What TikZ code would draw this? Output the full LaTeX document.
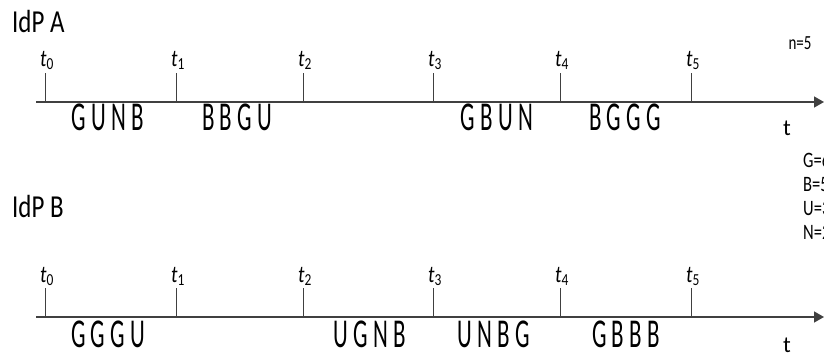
\documentclass[tikz,border=0pt]{standalone}
\usepackage{fontspec}
\setmainfont{Carlito}
\usetikzlibrary{arrows.meta}
\definecolor{axisgray}{HTML}{404040}
\tikzset{
  axisline/.style={draw=axisgray, line width=1.4pt, -{Triangle[length=10pt,width=11pt]}},
  tickline/.style={draw=axisgray, line width=1pt},
  ticklabel/.style={anchor=base, inner sep=0pt, font=\fontsize{24}{28}\selectfont},
  seqlabel/.style={anchor=base, inner sep=0pt, font=\fontsize{41}{46}\selectfont},
  titlelabel/.style={anchor=base west, inner sep=0pt, font=\fontsize{32}{36}\selectfont},
  smalllabel/.style={anchor=base, inner sep=0pt, font=\fontsize{20}{24}\selectfont},
  legendlabel/.style={anchor=base west, inner sep=0pt, font=\fontsize{22}{26}\selectfont},
}
\newcommand{\sq}[1]{\scalebox{0.56}[1]{#1}}
\newcommand{\tl}[1]{\textit{t}\textsubscript{#1}}
\begin{document}
\begin{tikzpicture}[x=1pt,y=-1pt]
\useasboundingbox (0,0) rectangle (824,354);
% titles
\node[titlelabel] (titleA) at (12,32) {\scalebox{0.78}[1]{IdP A}};
\node[titlelabel] (titleB) at (12,217) {\scalebox{0.78}[1]{IdP B}};
\node[smalllabel] (n) at (800,49) {\scalebox{0.75}[1]{n=5}};
% axis A
\coordinate (sA) at (36,102);
\coordinate (eA) at (824,102);
\draw[axisline] (sA) -- (eA);
\foreach \i/\x in {0/45,1/176,2/303,3/433,4/560,5/691}{
  \coordinate (A\i) at (\x,102);
  \coordinate (Atop\i) at (\x,73);
  \draw[tickline] (A\i) -- (Atop\i);
  \node[ticklabel] (lA\i) at (\x+2,66) {\scalebox{0.8}[1]{\tl{\i}}};
}
\node[smalllabel, font=\fontsize{23}{26}\selectfont] (tA) at (787,135) {t};
\node[seqlabel] (a1) at (108,130) {\sq{G U N B}};
\node[seqlabel] (a2) at (237,130) {\sq{B B G U}};
\node[seqlabel] (a3) at (497,130) {\sq{G B U N}};
\node[seqlabel] (a4) at (625,130) {\sq{B G G G}};
% legend
\node[legendlabel] (lg) at (803,167) {\scalebox{0.75}[1]{G=6}};
\node[legendlabel] (lb) at (803,191) {\scalebox{0.75}[1]{B=5}};
\node[legendlabel] (lu) at (803,215) {\scalebox{0.75}[1]{U=3}};
\node[legendlabel] (ln) at (803,239) {\scalebox{0.75}[1]{N=2}};
% axis B
\coordinate (sB) at (36,317);
\coordinate (eB) at (824,317);
\draw[axisline] (sB) -- (eB);
\foreach \i/\x in {0/45,1/176,2/303,3/433,4/560,5/691}{
  \coordinate (B\i) at (\x,317);
  \coordinate (Btop\i) at (\x,288);
  \draw[tickline] (B\i) -- (Btop\i);
  \node[ticklabel] (lB\i) at (\x+2,282) {\scalebox{0.8}[1]{\tl{\i}}};
}
\node[smalllabel, font=\fontsize{23}{26}\selectfont] (tB) at (787,352) {t};
\node[seqlabel] (b1) at (108,347) {\sq{G G G U}};
\node[seqlabel] (b2) at (370,347) {\sq{U G N B}};
\node[seqlabel] (b3) at (494,347) {\sq{U N B G}};
\node[seqlabel] (b4) at (626,347) {\sq{G B B B}};
\end{tikzpicture}
\end{document}
